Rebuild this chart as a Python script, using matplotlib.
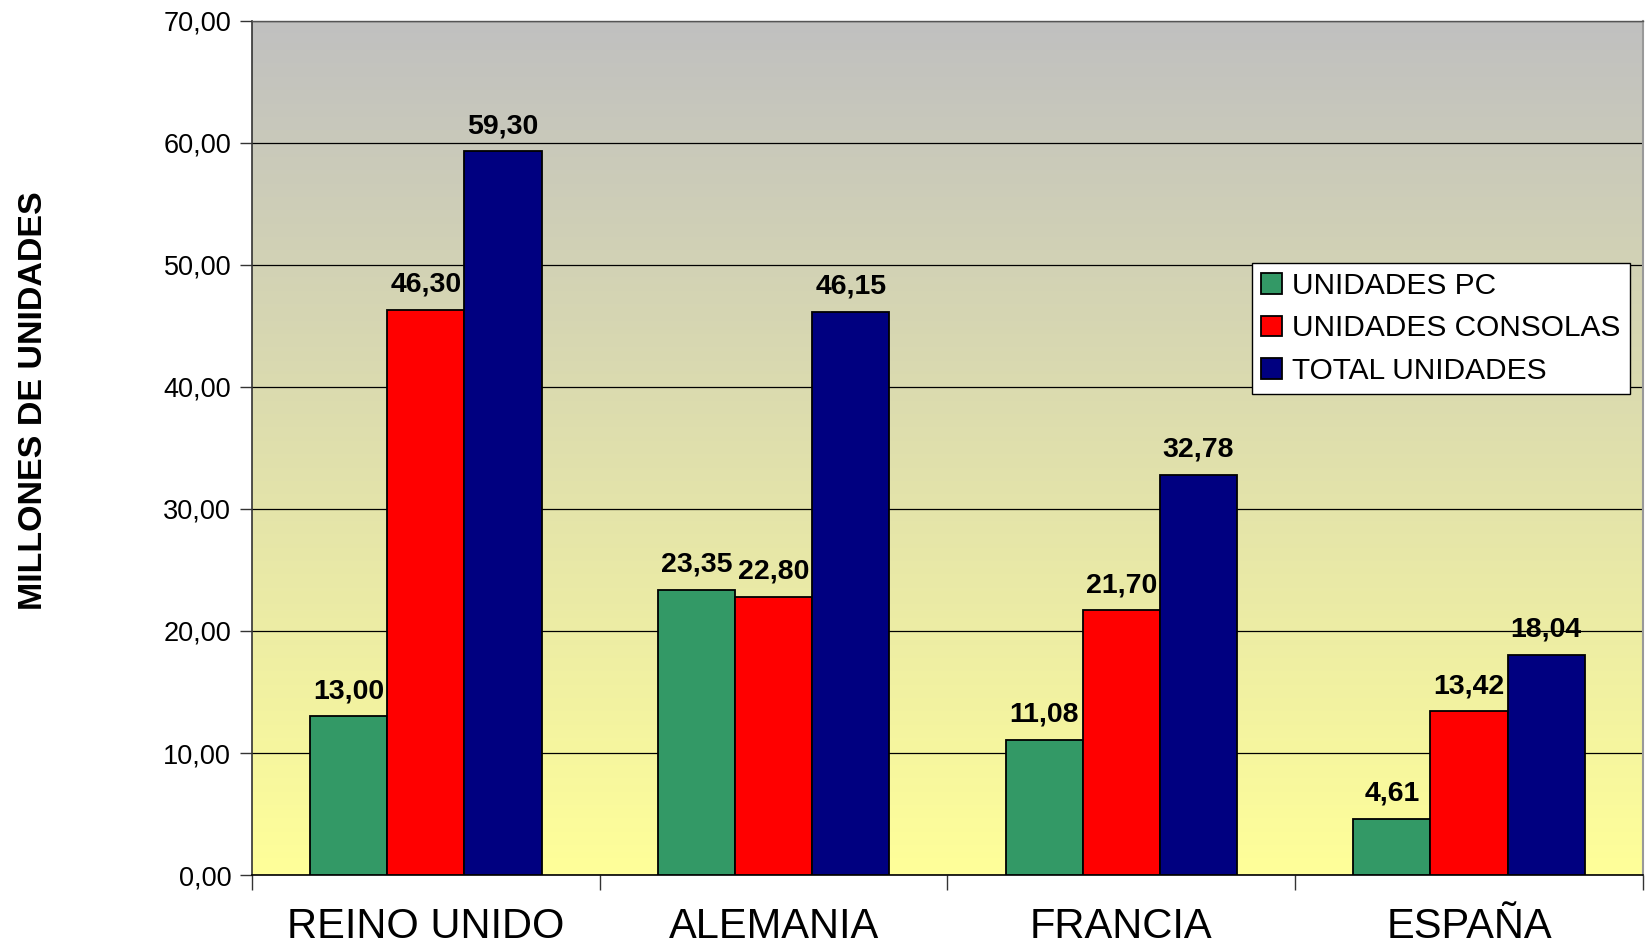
import numpy as np
import matplotlib
matplotlib.use("Agg")
import matplotlib.pyplot as plt
from matplotlib.colors import LinearSegmentedColormap

plt.rcParams['font.family'] = ['Liberation Sans', 'DejaVu Sans']

categories = ["REINO UNIDO", "ALEMANIA", "FRANCIA", "ESPAÑA"]
series_names = ["UNIDADES PC", "UNIDADES CONSOLAS", "TOTAL UNIDADES"]
pc = [13.00, 23.35, 11.08, 4.61]
consolas = [46.30, 22.80, 21.70, 13.42]
total = [59.30, 46.15, 32.78, 18.04]
colors = ["#339966", "#FF0000", "#000080"]

fig = plt.figure(figsize=(16.46, 9.47), dpi=100)
ax = fig.add_axes([0.1531, 0.076, 0.845, 0.902])

ax.set_xlim(0.5, 4.5)
ax.set_ylim(0, 70)

# gradient background
cmap = LinearSegmentedColormap.from_list("bg", [(1, 1, 0.6), (0.753, 0.753, 0.753)])
grad = np.linspace(0, 1, 256).reshape(-1, 1)
ax.imshow(grad, aspect='auto', cmap=cmap, origin='lower',
          extent=[0.5, 4.5, 0, 70], zorder=0)

x = np.arange(1, len(categories) + 1)
w = 0.222
for i, (vals, name, c) in enumerate(zip([pc, consolas, total], series_names, colors)):
    pos = x + (i - 1) * w
    ax.bar(pos, vals, width=w, color=c, edgecolor='black', linewidth=1.3,
           label=name, zorder=3)
    for p, v in zip(pos, vals):
        ax.text(p, v + 1.0, f"{v:.2f}".replace('.', ','), ha='center', va='bottom',
                fontsize=20.5, fontweight='bold', zorder=4)

ax.set_yticks(np.arange(0, 71, 10))
ax.set_yticklabels([f"{v:.2f}".replace('.', ',') for v in np.arange(0, 71, 10)], fontsize=19.5)
ax.yaxis.grid(True, color='black', linewidth=0.9, zorder=1)
ax.set_axisbelow(True)

ax.set_xticks(x)
ax.set_xticklabels(categories, fontsize=30)
ax.tick_params(axis='x', which='major', length=0, pad=23)
ax.set_xticks(np.arange(0.5, 4.6, 1.0), minor=True)
ax.tick_params(axis='x', which='minor', length=11, width=1, color='#333333', direction='out')
ax.tick_params(axis='y', length=9, width=1, color='#333333', direction='out', pad=6)

ax.set_ylabel("MILLONES DE UNIDADES", fontsize=24.5, fontweight='bold')
ax.yaxis.set_label_coords(-0.146, 0.555)

ax.spines['left'].set_color('#333333')
ax.spines['left'].set_linewidth(1.2)
ax.spines['bottom'].set_color('black')
ax.spines['bottom'].set_linewidth(1.2)
ax.spines['top'].set_color('#555555')
ax.spines['top'].set_linewidth(1)
ax.spines['right'].set_color('#999999')
ax.spines['right'].set_linewidth(1.5)

leg = ax.legend(loc='upper left', bbox_to_anchor=(0.719, 0.717), borderaxespad=0,
                fontsize=21.5, frameon=True, fancybox=False, edgecolor='black',
                handlelength=0.7, handleheight=0.7, handletextpad=0.35,
                labelspacing=0.5, borderpad=0.3)
leg.get_frame().set_linewidth(1.0)
leg.get_frame().set_facecolor('white')
leg.get_frame().set_alpha(1)

fig.savefig("out.png", dpi=100)
